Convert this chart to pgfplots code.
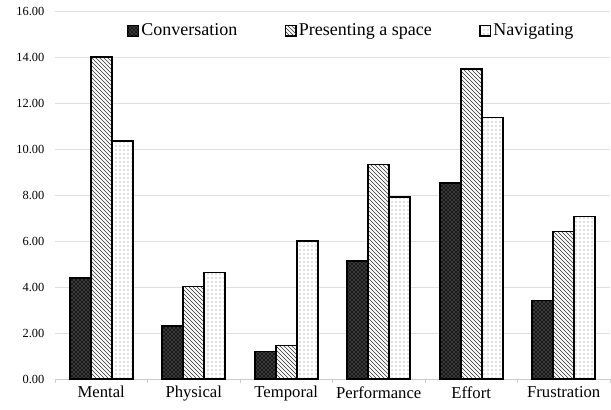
\documentclass[border=0pt]{standalone}
\usepackage{pgfplots}
\pgfplotsset{compat=1.18}
\usepackage{fontspec}
\setmainfont{Liberation Serif}
\usetikzlibrary{patterns}
\pgfplotstableread{
x conv pres nav
0 4.40 14.00 10.36
1 2.30 4.02 4.63
2 1.20 1.45 5.99
3 5.14 9.33 7.92
4 8.53 13.48 11.37
5 3.42 6.41 7.06
}\datatable
\begin{document}
\begin{tikzpicture}
\useasboundingbox (-41.25pt,-23.25pt) rectangle (417pt,284.25pt);
\begin{axis}[
  scale only axis,
  width=416.25pt, height=276pt,
  ybar=0pt, bar width=15.75pt,
  xmin=-0.5, xmax=5.5, ymin=0, ymax=16,
  ytick={0,2,...,16},
  yticklabel style={font=\fontsize{9.3}{11}\selectfont, xshift=-4.5pt, /pgf/number format/fixed, /pgf/number format/fixed zerofill, /pgf/number format/precision=2, /pgf/number format/assume math mode=true},
  ymajorgrids, grid style={gray!25, line width=0.6pt},
  axis y line*=left, y axis line style={draw=none},
  major tick length=0pt,
  xtick={0,...,5},
  xticklabels={Mental,Physical,Temporal,Performance,Effort,Frustration},
  xticklabel style={font=\fontsize{12.5}{14}\selectfont, yshift=-2pt},
  minor xtick={-0.5,0.5,...,5.5},
  minor tick length=3pt, tick align=outside,
  minor tick style={gray!40, line width=0.6pt},
  axis x line*=bottom, x axis line style={gray!40, line width=0.6pt},
  separate axis lines,
  clip=false,
  legend columns=3,
  legend style={draw=none, at={(0.13,0.946)}, anchor=west, inner sep=0pt,
    font=\fontsize{13.5}{16}\selectfont,
    /tikz/every even column/.append style={column sep=34pt},
    nodes={inner sep=1.8pt}},
  legend image code/.code={\draw[#1, line width=0.6pt] (0pt,-4pt) rectangle (8pt,4pt);},
]
\addplot[draw=black, line width=1.2pt, preaction={fill=black!90}, pattern=crosshatch dots, pattern color=white!65!black] table[x=x,y=conv]{\datatable};
\addplot[draw=black, line width=1.2pt, preaction={fill=white}, pattern=north west lines, pattern color=black!80] table[x=x,y=pres]{\datatable};
\addplot[draw=black, line width=1.2pt, preaction={fill=white}, pattern=dots, pattern color=gray] table[x=x,y=nav]{\datatable};
\legend{Conversation,Presenting a space,Navigating}
\end{axis}
\end{tikzpicture}
\end{document}
